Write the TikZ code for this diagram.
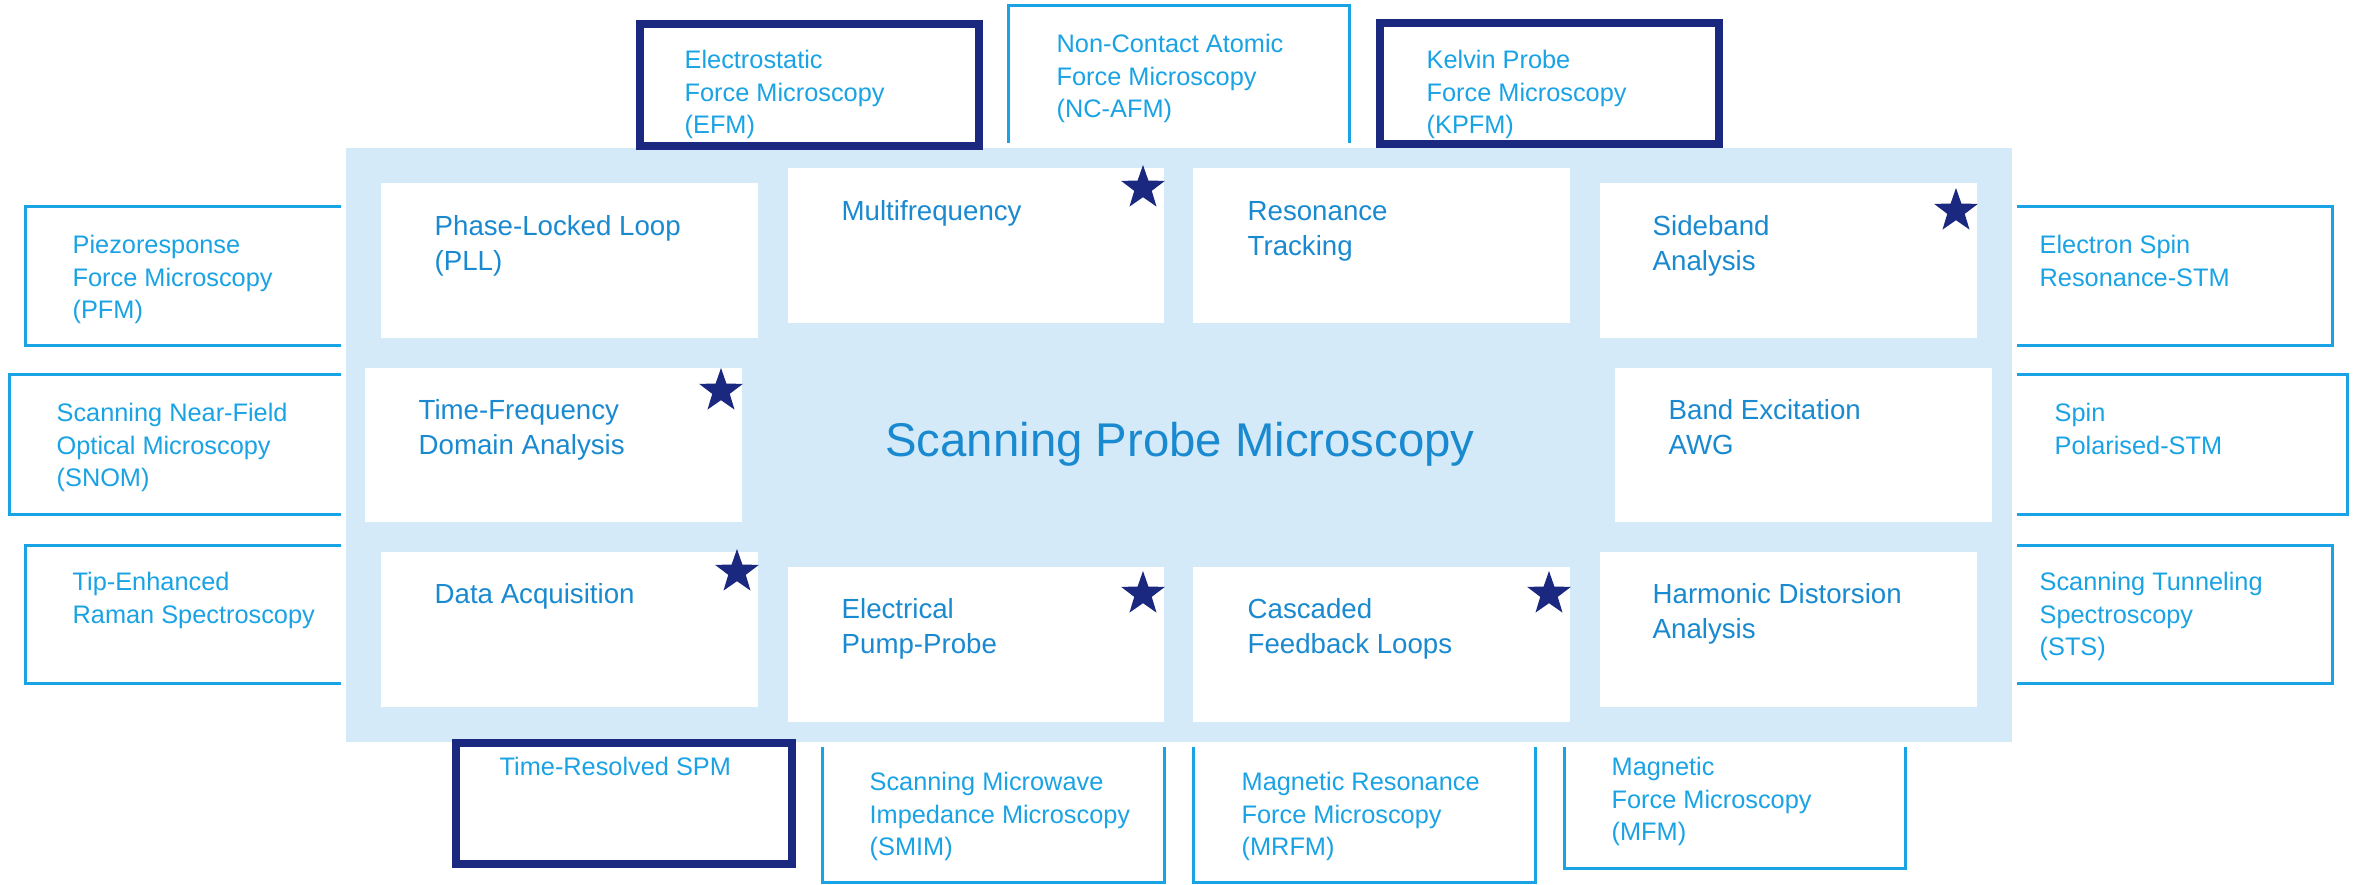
\documentclass[tikz,border=0pt]{standalone}
\usepackage{fontspec}
\setmainfont{Liberation Sans}
\usetikzlibrary{shapes.geometric}
\definecolor{spmpale}{HTML}{D5EAF8}
\definecolor{spmcyan}{HTML}{1AA3E4}
\definecolor{spmblue}{HTML}{1A8AD0}
\definecolor{spmnavy}{HTML}{1B2880}
\newcommand\topstrut{\rule{0pt}{9pt}}

\begin{document}
\begin{tikzpicture}[x=0.3pt,y=-0.3pt,
  outline/.style={draw=spmcyan, line width=0.9pt},
  heavybox/.style={draw=spmnavy, line width=2.4pt, fill=white},
  cell/.style={fill=white},
  ratingstar/.style={star, star points=5, star point ratio=2.5, fill=spmnavy,
    inner sep=0pt, minimum size=13.8pt},
  outertext/.style={anchor=north west, inner sep=0pt, align=left, text=spmcyan,
    font=\fontsize{7.6}{9.75}\selectfont},
  innertext/.style={anchor=north west, inner sep=0pt, align=left, text=spmblue,
    font=\fontsize{8.3}{10.5}\selectfont},
  titletext/.style={anchor=base, inner sep=0pt, text=spmblue,
    font=\fontsize{14.2}{17}\selectfont},
]
% canvas
\fill[white] (0,0) rectangle (2357,885);
\useasboundingbox (0,0) rectangle (2357,885);

% open-sided outer boxes
\draw[outline] (1008,143) -- (1008,6) -- (1349,6) -- (1349,143);
\draw[outline] (341,207) -- (25,207) -- (25,346) -- (341,346);
\draw[outline] (341,375) -- (9,375) -- (9,515) -- (341,515);
\draw[outline] (341,545) -- (25,545) -- (25,683) -- (341,683);
\draw[outline] (2017,207) -- (2332,207) -- (2332,346) -- (2017,346);
\draw[outline] (2017,375) -- (2347,375) -- (2347,515) -- (2017,515);
\draw[outline] (2017,545) -- (2332,545) -- (2332,683) -- (2017,683);
\draw[outline] (822,747) -- (822,882) -- (1164,882) -- (1164,747);
\draw[outline] (1193,747) -- (1193,882) -- (1535,882) -- (1535,747);
\draw[outline] (1564,747) -- (1564,868) -- (1905,868) -- (1905,747);

% central panel
\fill[spmpale] (346,148) rectangle (2012,742);

% method cells
\fill[cell] (381,183) rectangle (758,338);
\fill[cell] (788,168) rectangle (1164,323);
\fill[cell] (1193,168) rectangle (1570,323);
\fill[cell] (1600,183) rectangle (1977,338);
\fill[cell] (365,368) rectangle (742,522);
\fill[cell] (1615,368) rectangle (1992,522);
\fill[cell] (381,552) rectangle (758,707);
\fill[cell] (788,567) rectangle (1164,722);
\fill[cell] (1193,567) rectangle (1570,722);
\fill[cell] (1600,552) rectangle (1977,707);

% highlighted techniques
\draw[heavybox] (640,24) rectangle (979,146);
\draw[heavybox] (1380,23) rectangle (1719,144);
\draw[heavybox] (456,743) rectangle (792,864);

% stars
\node[ratingstar] (star-mf) at (1143,188) {};
\node[ratingstar] (star-sb) at (1956,211) {};
\node[ratingstar] (star-tf) at (721,391) {};
\node[ratingstar] (star-da) at (737,572) {};
\node[ratingstar] (star-ep) at (1143,594) {};
\node[ratingstar] (star-cf) at (1549,594) {};

% title
\node[titletext] (title) at (1180,457) {Scanning Probe Microscopy};

% inner labels
\node[innertext] (pll) at (434,205) {\topstrut Phase-Locked Loop\\(PLL)};
\node[innertext] (mf) at (841,190) {\topstrut Multifrequency};
\node[innertext] (rt) at (1247,190) {\topstrut Resonance\\Tracking};
\node[innertext] (sb) at (1652,205) {\topstrut Sideband\\Analysis};
\node[innertext] (tf) at (418,389) {\topstrut Time-Frequency\\Domain Analysis};
\node[innertext] (be) at (1668,389) {\topstrut Band Excitation\\AWG};
\node[innertext] (da) at (434,573) {\topstrut Data Acquisition};
\node[innertext] (ep) at (841,588) {\topstrut Electrical\\Pump-Probe};
\node[innertext] (cf) at (1247,588) {\topstrut Cascaded\\Feedback Loops};
\node[innertext] (hd) at (1652,573) {\topstrut Harmonic Distorsion\\Analysis};

% outer labels
\node[outertext] (efm) at (684,38) {\topstrut Electrostatic\\Force Microscopy\\(EFM)};
\node[outertext] (ncafm) at (1056,22) {\topstrut Non-Contact Atomic\\Force Microscopy\\(NC-AFM)};
\node[outertext] (kpfm) at (1426,38) {\topstrut Kelvin Probe\\Force Microscopy\\(KPFM)};
\node[outertext] (pfm) at (72,223) {\topstrut Piezoresponse\\Force Microscopy\\(PFM)};
\node[outertext] (snom) at (56,391) {\topstrut Scanning Near-Field\\Optical Microscopy\\(SNOM)};
\node[outertext] (tip) at (72,560) {\topstrut Tip-Enhanced\\Raman Spectroscopy};
\node[outertext] (esr) at (2039,223) {\topstrut Electron Spin\\Resonance-STM};
\node[outertext] (spstm) at (2054,391) {\topstrut Spin\\Polarised-STM};
\node[outertext] (sts) at (2039,560) {\topstrut Scanning Tunneling\\Spectroscopy\\(STS)};
\node[outertext] (trspm) at (499,745) {\topstrut Time-Resolved SPM};
\node[outertext] (smim) at (869,760) {\topstrut Scanning Microwave\\Impedance Microscopy\\(SMIM)};
\node[outertext] (mrfm) at (1241,760) {\topstrut Magnetic Resonance\\Force Microscopy\\(MRFM)};
\node[outertext] (mfm) at (1611,745) {\topstrut Magnetic\\Force Microscopy\\(MFM)};
\end{tikzpicture}
\end{document}
